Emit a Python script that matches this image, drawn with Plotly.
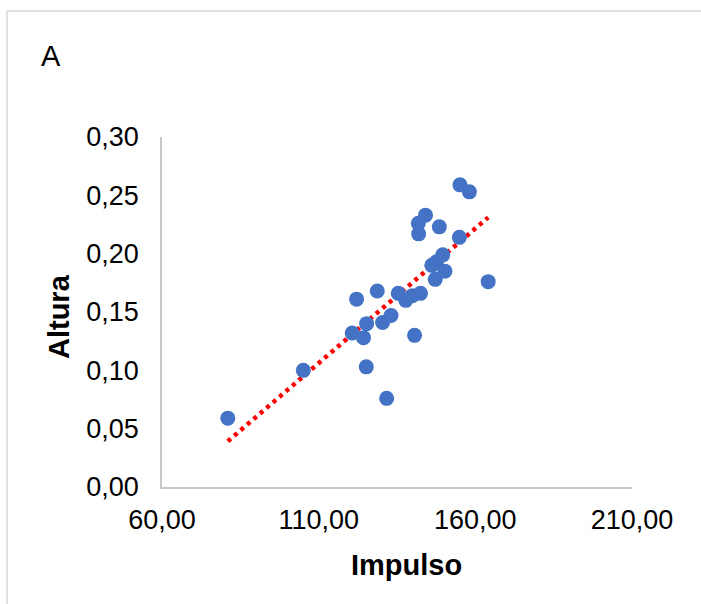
import numpy as np
import plotly.graph_objects as go

impulso = [81.0, 105.1, 122.1, 128.7, 120.7, 125.3, 124.3, 125.2, 131.7, 130.4,
           133.1, 135.4, 137.8, 139.9, 142.5, 140.6, 141.8, 141.9, 144.1, 148.5,
           147.2, 146.1, 147.6, 149.6, 150.3, 154.9, 155.1, 158.1, 164.1]
altura = [0.059, 0.100, 0.161, 0.168, 0.132, 0.140, 0.128, 0.103, 0.076, 0.141,
          0.147, 0.166, 0.160, 0.164, 0.166, 0.130, 0.226, 0.217, 0.233, 0.223,
          0.178, 0.190, 0.193, 0.199, 0.185, 0.214, 0.259, 0.253, 0.176]

x_ticks = [60, 110, 160, 210]
x_labels = ["60,00", "110,00", "160,00", "210,00"]
y_ticks = [0.00, 0.05, 0.10, 0.15, 0.20, 0.25, 0.30]
y_labels = ["0,00", "0,05", "0,10", "0,15", "0,20", "0,25", "0,30"]

slope, intercept = np.polyfit(impulso, altura, 1)
tx = np.array([min(impulso), max(impulso)])
ty = slope * tx + intercept

W, H = 701, 604
L, R, T, B = 162, 632, 137, 487

fig = go.Figure()
fig.add_trace(go.Scatter(x=tx, y=ty, mode="lines",
                         line=dict(color="#FF0000", width=4.5, dash="4px,4.5px"),
                         hoverinfo="skip", showlegend=False))
fig.add_trace(go.Scatter(x=impulso, y=altura, mode="markers",
                         marker=dict(color="#4472C4", size=15),
                         showlegend=False))

font = "Liberation Sans, Arial, sans-serif"
fig.update_layout(
    width=W, height=H,
    margin=dict(l=L, r=W - R, t=T, b=H - B, autoexpand=False),
    plot_bgcolor="white", paper_bgcolor="white",
    font=dict(family=font, color="#000000"),
    xaxis=dict(range=[60, 210], tickvals=x_ticks, ticktext=x_labels,
               showgrid=False, zeroline=False, showline=True, automargin=False,
               linecolor="#C8C8C8", linewidth=1.5, ticks="",
               tickfont=dict(size=27, family=font), ticklabelstandoff=8),
    yaxis=dict(range=[0, 0.30], tickvals=y_ticks, ticktext=y_labels,
               showgrid=False, zeroline=False, showline=True, automargin=False,
               linecolor="#C8C8C8", linewidth=1.5, ticks="",
               tickfont=dict(size=27, family=font), ticklabelstandoff=16),
)

def px(x):
    return (x - L) / (R - L)

def py(y):
    return (B - y) / (B - T)

fig.add_annotation(text="<b>Impulso</b>", x=px(406), y=py(565), xref="paper", yref="paper",
                   showarrow=False, font=dict(size=29, family=font), xanchor="center", yanchor="middle")
fig.add_annotation(text="<b>Altura</b>", x=px(59), y=py(317), xref="paper", yref="paper",
                   showarrow=False, textangle=-90, font=dict(size=29, family=font),
                   xanchor="center", yanchor="middle")
fig.add_annotation(text="A", x=px(51), y=py(56), xref="paper", yref="paper",
                   showarrow=False, font=dict(size=29, family=font),
                   xanchor="center", yanchor="middle")

frame = dict(color="#D9D9D9", width=1.5)
fig.add_shape(type="line", xref="paper", yref="paper",
              x0=px(7), y0=py(11), x1=px(W + 20), y1=py(11), line=frame, layer="below")
fig.add_shape(type="line", xref="paper", yref="paper",
              x0=px(7), y0=py(11), x1=px(7), y1=py(H + 20), line=frame, layer="below")

fig.write_html("out.html", config={"displayModeBar": False},
               post_script=("document.body.style.margin='0';"
                            "document.body.style.overflow='hidden';"
                            "document.documentElement.style.overflow='hidden';"))
